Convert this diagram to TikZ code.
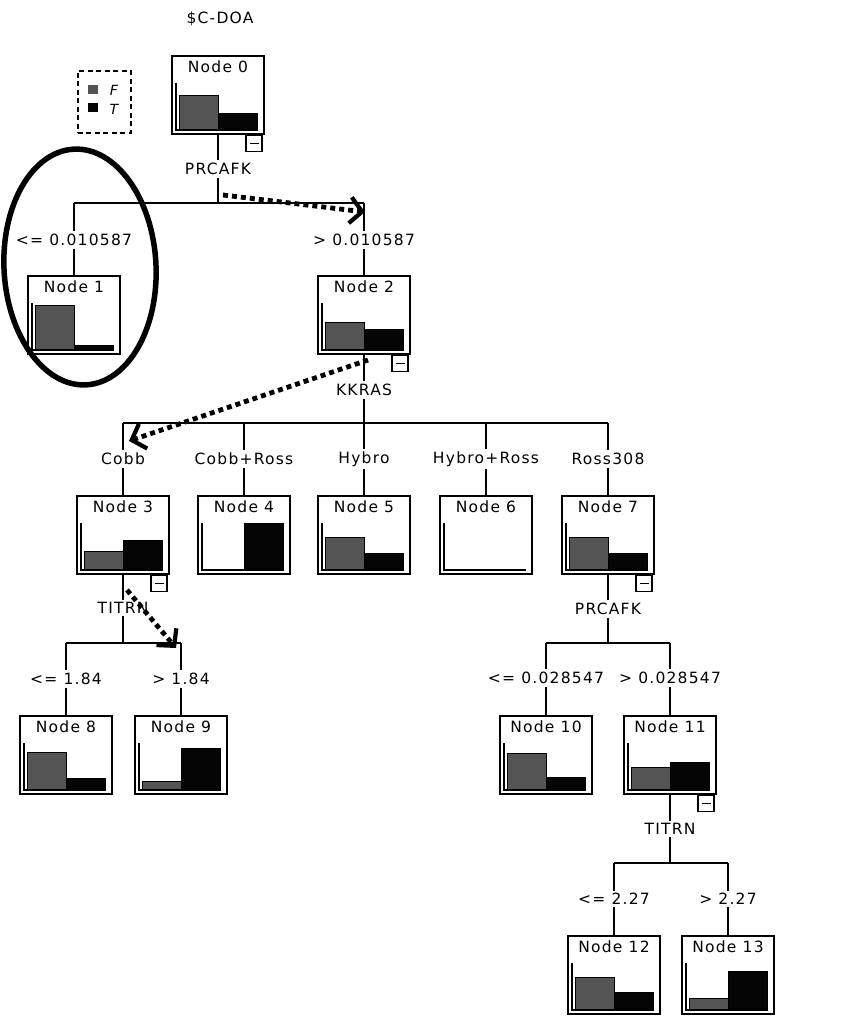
\documentclass[tikz,border=0pt]{standalone}
\usepackage{fontspec}
\setmainfont[LetterSpace=8]{DejaVu Sans}
\usetikzlibrary{arrows.meta}

\definecolor{barF}{RGB}{84,84,84}
\definecolor{barT}{RGB}{5,5,5}

\tikzset{
  box/.style={draw, line width=1.9pt, minimum width=92pt, minimum height=78pt,
    inner sep=0pt, fill=white},
  boxtitle/.style={inner sep=1pt, font=\fontsize{15.5}{17}\selectfont},
  lab/.style={inner sep=2.5pt, font=\fontsize{15.5}{17}\selectfont},
  conn/.style={line width=1.9pt},
  axisline/.style={line width=1.6pt},
  btnbox/.style={draw, line width=1.5pt, minimum size=16pt, inner sep=0pt, fill=white,
    path picture={\draw[line width=1.4pt]
      ([xshift=3.5pt]path picture bounding box.west) --
      ([xshift=-3.5pt]path picture bounding box.east);}},
  hint/.style={line width=4.8pt, dash pattern=on 5pt off 4pt,
    -{Straight Barb[length=12pt,width=26pt,line width=4.2pt]}},
  ring/.style={line width=5.5pt},
  legendbox/.style={draw, line width=1.6pt, dash pattern=on 5pt off 3.5pt}
}

% a tree node: name, centre x, top y, title, top of F bar, top of T bar
\newcommand\treebox[6]{%
  \node[box, anchor=north] (#1) at (#2,#3) {};
  \node[boxtitle] (#1t) at ([yshift=-12pt]#1.north) {#4};
  \begin{scope}[shift={(#1.north west)}]
    \filldraw[fill=barF, draw=black, line width=0.9pt] (8,74) rectangle (47,#5);
    \filldraw[fill=barT, draw=black, line width=0.9pt] (47,74) rectangle (86,#6);
    \draw[axisline] (5,28) -- (5,75) -- (87,75);
  \end{scope}
}
% collapse button under an expanded node
\newcommand\collapsebtn[1]{%
  \node[btnbox, anchor=north east] (#1b) at ([xshift=-2pt]#1.south east) {};
}

\begin{document}
\begin{tikzpicture}[x=1pt,y=-1pt]
\useasboundingbox (0,0) rectangle (853,1019);

% target title and legend
\node[lab] (target) at (220,19) {\$C-DOA};
\node[legendbox, minimum width=53pt, minimum height=62pt, anchor=north west] (legend) at (77,70) {};
\fill[barF] (88,85) rectangle (98,94);
\fill[barT] (88,103) rectangle (98,112);
\node[inner sep=0pt, font=\fontsize{14}{16}\selectfont\itshape] (legF) at (114,90) {F};
\node[inner sep=0pt, font=\fontsize{14}{16}\selectfont\itshape] (legT) at (114,109) {T};

% nodes
\treebox{n0}{218}{55}{Node 0}{40}{58}
\treebox{n1}{74}{275}{Node 1}{30}{70}
\treebox{n2}{364}{275}{Node 2}{47}{54}
\treebox{n3}{123}{495}{Node 3}{56}{45}
\treebox{n4}{244}{495}{Node 4}{74}{28}
\treebox{n5}{364}{495}{Node 5}{42}{58}
\treebox{n6}{486}{495}{Node 6}{74}{74}
\treebox{n7}{608}{495}{Node 7}{42}{58}
\treebox{n8}{66}{715}{Node 8}{37}{63}
\treebox{n9}{181}{715}{Node 9}{66}{33}
\treebox{n10}{546}{715}{Node 10}{38}{62}
\treebox{n11}{670}{715}{Node 11}{52}{47}
\treebox{n12}{614}{935}{Node 12}{42}{57}
\treebox{n13}{728}{935}{Node 13}{63}{36}

\collapsebtn{n0}
\collapsebtn{n2}
\collapsebtn{n3}
\collapsebtn{n7}
\collapsebtn{n11}

% split on PRCAFK
\node[lab] (s0) at (218,169) {PRCAFK};
\coordinate (j0) at (218,203);
\coordinate (j01) at (74,203);
\coordinate (j02) at (364,203);
\node[lab] (e1) at (74,240) {<= 0.010587};
\node[lab] (e2) at (364,240) {> 0.010587};
\draw[conn] (n0) -- (s0) -- (j0);
\draw[conn] (j01) -- (j02);
\draw[conn] (j01) -- (e1) -- (n1);
\draw[conn] (j02) -- (e2) -- (n2);

% split on KKRAS
\node[lab] (s2) at (364,390) {KKRAS};
\coordinate (j2) at (364,423);
\coordinate (j23) at (123,423);
\coordinate (j24) at (244,423);
\coordinate (j26) at (486,423);
\coordinate (j27) at (608,423);
\node[lab] (e3) at (123,459) {Cobb};
\node[lab] (e4) at (244,459) {Cobb+Ross};
\node[lab] (e5) at (364,459) {Hybro};
\node[lab] (e6) at (486,459) {Hybro+Ross};
\node[lab] (e7) at (608,459) {Ross308};
\draw[conn] (n2) -- (s2) -- (j2);
\draw[conn] (j23) -- (j27);
\draw[conn] (j23) -- (e3) -- (n3);
\draw[conn] (j24) -- (e4) -- (n4);
\draw[conn] (j2) -- (e5) -- (n5);
\draw[conn] (j26) -- (e6) -- (n6);
\draw[conn] (j27) -- (e7) -- (n7);

% split on TITRN under Node 3
\node[lab] (s3) at (123,608) {TITRN};
\coordinate (j3) at (123,643);
\coordinate (j38) at (66,643);
\coordinate (j39) at (181,643);
\node[lab] (e8) at (66,679) {<= 1.84};
\node[lab] (e9) at (181,679) {> 1.84};
\draw[conn] (n3) -- (s3) -- (j3);
\draw[conn] (j38) -- (j39);
\draw[conn] (j38) -- (e8) -- (n8);
\draw[conn] (j39) -- (e9) -- (n9);

% split on PRCAFK under Node 7
\node[lab] (s7) at (608,609) {PRCAFK};
\coordinate (j7) at (608,643);
\coordinate (j710) at (546,643);
\coordinate (j711) at (670,643);
\node[lab] (e10) at (546,678) {<= 0.028547};
\node[lab] (e11) at (670,678) {> 0.028547};
\draw[conn] (n7) -- (s7) -- (j7);
\draw[conn] (j710) -- (j711);
\draw[conn] (j710) -- (e10) -- (n10);
\draw[conn] (j711) -- (e11) -- (n11);

% split on TITRN under Node 11
\node[lab] (s11) at (670,829) {TITRN};
\coordinate (j11) at (670,863);
\coordinate (j1112) at (614,863);
\coordinate (j1113) at (728,863);
\node[lab] (e12) at (614,899) {<= 2.27};
\node[lab] (e13) at (728,899) {> 2.27};
\draw[conn] (n11) -- (s11) -- (j11);
\draw[conn] (j1112) -- (j1113);
\draw[conn] (j1112) -- (e12) -- (n12);
\draw[conn] (j1113) -- (e13) -- (n13);

% highlighted leaf
\draw[ring, rotate around={3:(80,267)}] (80,267) ellipse [x radius=76, y radius=118];

% dotted path through the tree
\coordinate (p1s) at (223,195);
\coordinate (p1e) at (365,212);
\coordinate (p2s) at (368,360);
\coordinate (p2e) at (129,441);
\coordinate (p3s) at (127,590);
\coordinate (p3e) at (176,648);
\draw[hint] (p1s) -- (p1e);
\draw[hint] (p2s) -- (p2e);
\draw[hint] (p3s) -- (p3e);
\end{tikzpicture}
\end{document}
